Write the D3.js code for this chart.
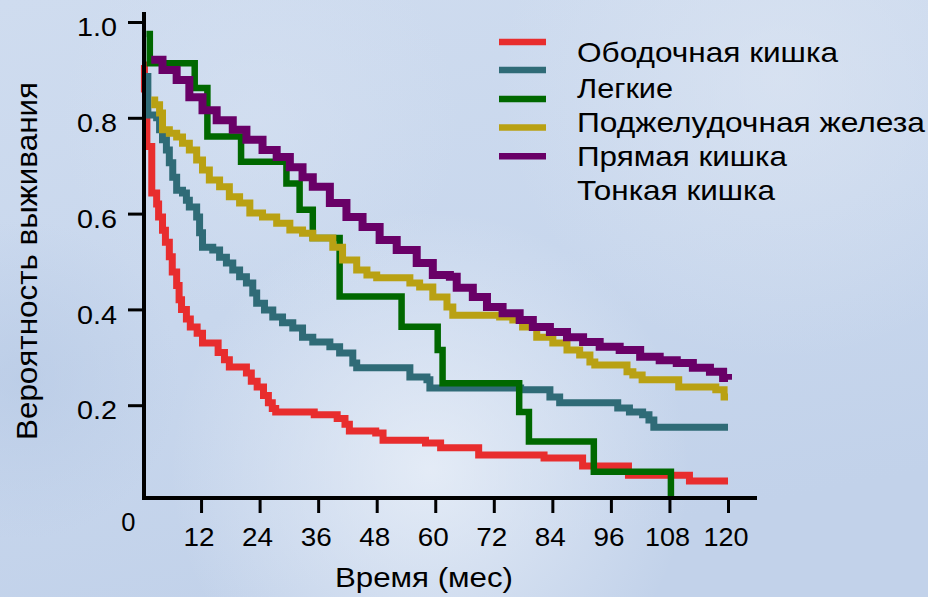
<!DOCTYPE html>
<html>
<head>
<meta charset="utf-8">
<script src="https://cdn.jsdelivr.net/npm/d3@7"></script>
<style>
  html, body { margin: 0; padding: 0; }
  body { width: 928px; height: 597px; overflow: hidden; }
  svg { display: block; font-family: "Liberation Sans", Arial, sans-serif; }
</style>
</head>
<body>
<svg id="chart" width="928" height="597"></svg>
<script>
// ---------- DATA ----------
const seriesNames = ["Ободочная кишка", "Легкие", "Поджелудочная железа", "Прямая кишка", "Тонкая кишка"];
const xTicks = [12, 24, 36, 48, 60, 72, 84, 96, 108, 120];
const yTicks = [0.2, 0.4, 0.6, 0.8, 1.0];
const yTickLabels = ["0.2", "0.4", "0.6", "0.8", "1.0"];

// Kaplan–Meier style steps: [month, survival]
const colonT = [0, 0.4, 0.9, 1.9, 2.9, 3.3, 4.1, 4.7, 5.5, 6.1, 7, 7.5, 8, 9, 9.8, 11.2, 12.3, 15.5, 16.8, 17.8, 21.3, 22.3, 23.5, 24.8, 25.8, 26.6, 27.3, 35.2, 39.9, 41.5, 42.4, 47.8, 49.3, 58, 61.1, 68.9, 82.3, 90.2, 99.6, 112.1, 120];
const colonS = [0.91, 0.86, 0.74, 0.643, 0.62, 0.593, 0.565, 0.54, 0.51, 0.478, 0.45, 0.42, 0.40, 0.38, 0.363, 0.35, 0.33, 0.31, 0.295, 0.28, 0.267, 0.25, 0.238, 0.22, 0.205, 0.193, 0.186, 0.18, 0.172, 0.16, 0.146, 0.142, 0.127, 0.121, 0.111, 0.096, 0.09, 0.073, 0.054, 0.042, 0.042];

const lungT = [0.5, 1.1, 2.9, 3.5, 4.1, 4.9, 5.5, 6.2, 7.0, 8.2, 9.0, 9.6, 11.1, 11.7, 12.3, 14.4, 15.8, 17.2, 18.5, 19.9, 21.3, 22.6, 23.4, 25.0, 26.7, 28.7, 30.8, 32.8, 34.9, 38.4, 40.4, 43.1, 43.9, 54.8, 58.3, 58.9, 77.5, 83.5, 85.5, 97.4, 99.8, 102.5, 103.8, 104.8, 120];
const lungS = [0.886, 0.806, 0.80, 0.775, 0.754, 0.733, 0.706, 0.676, 0.649, 0.643, 0.628, 0.614, 0.593, 0.56, 0.53, 0.524, 0.509, 0.497, 0.482, 0.468, 0.455, 0.434, 0.413, 0.399, 0.384, 0.372, 0.361, 0.342, 0.332, 0.322, 0.309, 0.288, 0.278, 0.259, 0.253, 0.236, 0.232, 0.217, 0.205, 0.194, 0.186, 0.18, 0.169, 0.154, 0.154];

const pancT = [0.8, 1.5, 10.7, 13.3, 20.2, 29.5, 32.2, 34.9, 40.4, 53.1, 60.5, 61.5, 77.2, 79.2, 92.5, 108.3];
const pancS = [0.975, 0.914, 0.862, 0.761, 0.708, 0.663, 0.608, 0.549, 0.427, 0.364, 0.315, 0.246, 0.186, 0.124, 0.061, 0.01];

const rectT = [1.8, 2.5, 3.5, 4.1, 5.5, 7.0, 8.2, 9.6, 11.1, 12.3, 13.7, 15.8, 17.8, 19.9, 22.0, 24.6, 27.5, 30.2, 32.8, 34.9, 39.0, 41.0, 43.9, 46.0, 48.0, 54.8, 56.8, 59.5, 62.4, 63.6, 73.2, 75.9, 77.9, 80.8, 84.1, 87.0, 89.6, 91.7, 92.7, 99.3, 100.5, 102.4, 109.9, 117.5, 119.2, 120];
const rectS = [0.837, 0.827, 0.81, 0.775, 0.768, 0.76, 0.747, 0.733, 0.712, 0.691, 0.67, 0.656, 0.635, 0.622, 0.601, 0.593, 0.58, 0.566, 0.559, 0.549, 0.53, 0.503, 0.482, 0.472, 0.466, 0.455, 0.447, 0.426, 0.405, 0.388, 0.384, 0.378, 0.363, 0.342, 0.33, 0.315, 0.305, 0.29, 0.284, 0.27, 0.263, 0.253, 0.238, 0.232, 0.217, 0.217];

const smallT = [1.8, 4.1, 7.0, 9.6, 12.3, 15.2, 18.5, 21.3, 24.6, 27.5, 30.2, 32.8, 34.9, 38.4, 41.8, 45.1, 48.6, 52.1, 56.2, 59.5, 63.0, 64.4, 67.7, 70.6, 73.8, 77.3, 80.0, 83.5, 87.0, 90.3, 93.7, 97.8, 102.0, 106.0, 109.5, 112.8, 116.3, 119.0, 120];
const smallS = [0.921, 0.90, 0.879, 0.843, 0.816, 0.795, 0.775, 0.754, 0.733, 0.718, 0.697, 0.676, 0.656, 0.622, 0.593, 0.572, 0.545, 0.524, 0.497, 0.472, 0.468, 0.445, 0.426, 0.405, 0.392, 0.378, 0.363, 0.353, 0.342, 0.332, 0.322, 0.315, 0.301, 0.294, 0.288, 0.278, 0.27, 0.257, 0.253];

const lineColors = ["#e82d2e", "#2f6b77", "#006800", "#b9a113", "#690067"];

// ---------- DRAW ----------
const svg = d3.select("#chart");
const defs = svg.append("defs");

// background
const lg = defs.append("linearGradient").attr("id", "bg").attr("x1", 0).attr("y1", 0).attr("x2", 0.3).attr("y2", 1);
lg.append("stop").attr("offset", "0%").attr("stop-color", "#cfdcef");
lg.append("stop").attr("offset", "55%").attr("stop-color", "#c8d7ed");
lg.append("stop").attr("offset", "100%").attr("stop-color", "#c2d2ea");
svg.append("rect").attr("width", 928).attr("height", 597).attr("fill", "url(#bg)");

function radial(id, cx, cy, r, color, op) {
  const g = defs.append("radialGradient").attr("id", id).attr("gradientUnits", "userSpaceOnUse")
    .attr("cx", cx).attr("cy", cy).attr("r", r);
  g.append("stop").attr("offset", "0%").attr("stop-color", color).attr("stop-opacity", op);
  g.append("stop").attr("offset", "100%").attr("stop-color", color).attr("stop-opacity", 0);
  svg.append("rect").attr("width", 928).attr("height", 597).attr("fill", `url(#${id})`);
}
radial("r1", 430, 470, 260, "#eef3fa", 0.75);
radial("r2", 780, 80, 280, "#dfe7f3", 0.6);
radial("r3", 20, 380, 160, "#b5c8e4", 0.6);
radial("r4", 260, 120, 200, "#d7e2f2", 0.5);

const x = d3.scaleLinear().domain([0, 120]).range([142.5, 728]);
const y = d3.scaleLinear().domain([0, 1]).range([501, 22]);

const series = [
  { name: seriesNames[0], t: colonT, s: colonS, color: lineColors[0], w: 7 },
  { name: seriesNames[1], t: lungT, s: lungS, color: lineColors[1], w: 7 },
  { name: seriesNames[2], t: pancT, s: pancS, color: lineColors[2], w: 6.5 },
  { name: seriesNames[3], t: rectT, s: rectS, color: lineColors[3], w: 7 },
  { name: seriesNames[4], t: smallT, s: smallS, color: lineColors[4], w: 8 }
];

const line = d3.line().x(d => x(d[0])).y(d => y(d[1])).curve(d3.curveStepAfter);

svg.append("g").selectAll("path").data(series).join("path")
  .attr("d", d => line(d.t.map((t, i) => [t, d.s[i]])))
  .attr("fill", "none")
  .attr("stroke", d => d.color)
  .attr("stroke-width", d => d.w)
  .attr("stroke-linejoin", "miter");

// axes
const axisG = svg.append("g");
axisG.append("line").attr("x1", 144).attr("x2", 144).attr("y1", 12).attr("y2", 500)
  .attr("stroke", "#000").attr("stroke-width", 4);
axisG.append("line").attr("x1", 142).attr("x2", 757).attr("y1", 498).attr("y2", 498)
  .attr("stroke", "#000").attr("stroke-width", 4);

const yAxis = d3.axisLeft(y).tickValues(yTicks).tickSize(16).tickFormat((d, i) => yTickLabels[i]);
const yg = svg.append("g").attr("transform", "translate(144,0)").call(yAxis);
yg.select(".domain").remove();
yg.selectAll(".tick line").attr("stroke", "#000").attr("stroke-width", 3);
yg.selectAll(".tick text")
  .attr("x", -27).attr("dy", "0.55em")
  .attr("font-size", 25).attr("fill", "#000")
  .attr("font-family", "Liberation Sans, Arial, sans-serif")
  .attr("textLength", 40).attr("lengthAdjust", "spacingAndGlyphs");

const xAxis = d3.axisBottom(x).tickValues(xTicks).tickSize(15).tickFormat(d3.format("d"));
const xg = svg.append("g").attr("transform", "translate(0,498)").call(xAxis);
xg.select(".domain").remove();
xg.selectAll(".tick line").attr("stroke", "#000").attr("stroke-width", 3);
xg.selectAll(".tick text")
  .attr("y", 48).attr("dy", 0).attr("x", -2.5)
  .attr("font-size", 25.5).attr("fill", "#000")
  .attr("font-family", "Liberation Sans, Arial, sans-serif")
  .attr("textLength", d => String(d).length === 2 ? 31 : 45)
  .attr("lengthAdjust", "spacingAndGlyphs");

svg.append("text").attr("x", 128.3).attr("y", 531).attr("text-anchor", "middle")
  .attr("font-size", 25.5).attr("fill", "#000").text("0");

// axis titles
svg.append("text").attr("x", 335).attr("y", 587)
  .attr("font-size", 28).attr("fill", "#000")
  .attr("textLength", 178).attr("lengthAdjust", "spacingAndGlyphs")
  .text("Время (мес)");

svg.append("text").attr("transform", "translate(37,440) rotate(-90)")
  .attr("font-size", 30).attr("fill", "#000")
  .attr("textLength", 358).attr("lengthAdjust", "spacingAndGlyphs")
  .text("Вероятность выживания");

// legend
const legendTextY = [62, 97.5, 132, 166, 200];
const legendTextW = [261, 96, 348, 210, 198];
const swatchY = [42, 70, 99, 127.5, 156.3];
const lgG = svg.append("g");
lgG.selectAll("line").data(lineColors).join("line")
  .attr("x1", 499).attr("x2", 546)
  .attr("y1", (d, i) => swatchY[i]).attr("y2", (d, i) => swatchY[i])
  .attr("stroke", d => d).attr("stroke-width", 6.5);
lgG.selectAll("text").data(seriesNames).join("text")
  .attr("x", 577).attr("y", (d, i) => legendTextY[i])
  .attr("font-size", 28).attr("fill", "#000")
  .attr("textLength", (d, i) => legendTextW[i]).attr("lengthAdjust", "spacingAndGlyphs")
  .text(d => d);
</script>
</body>
</html>
